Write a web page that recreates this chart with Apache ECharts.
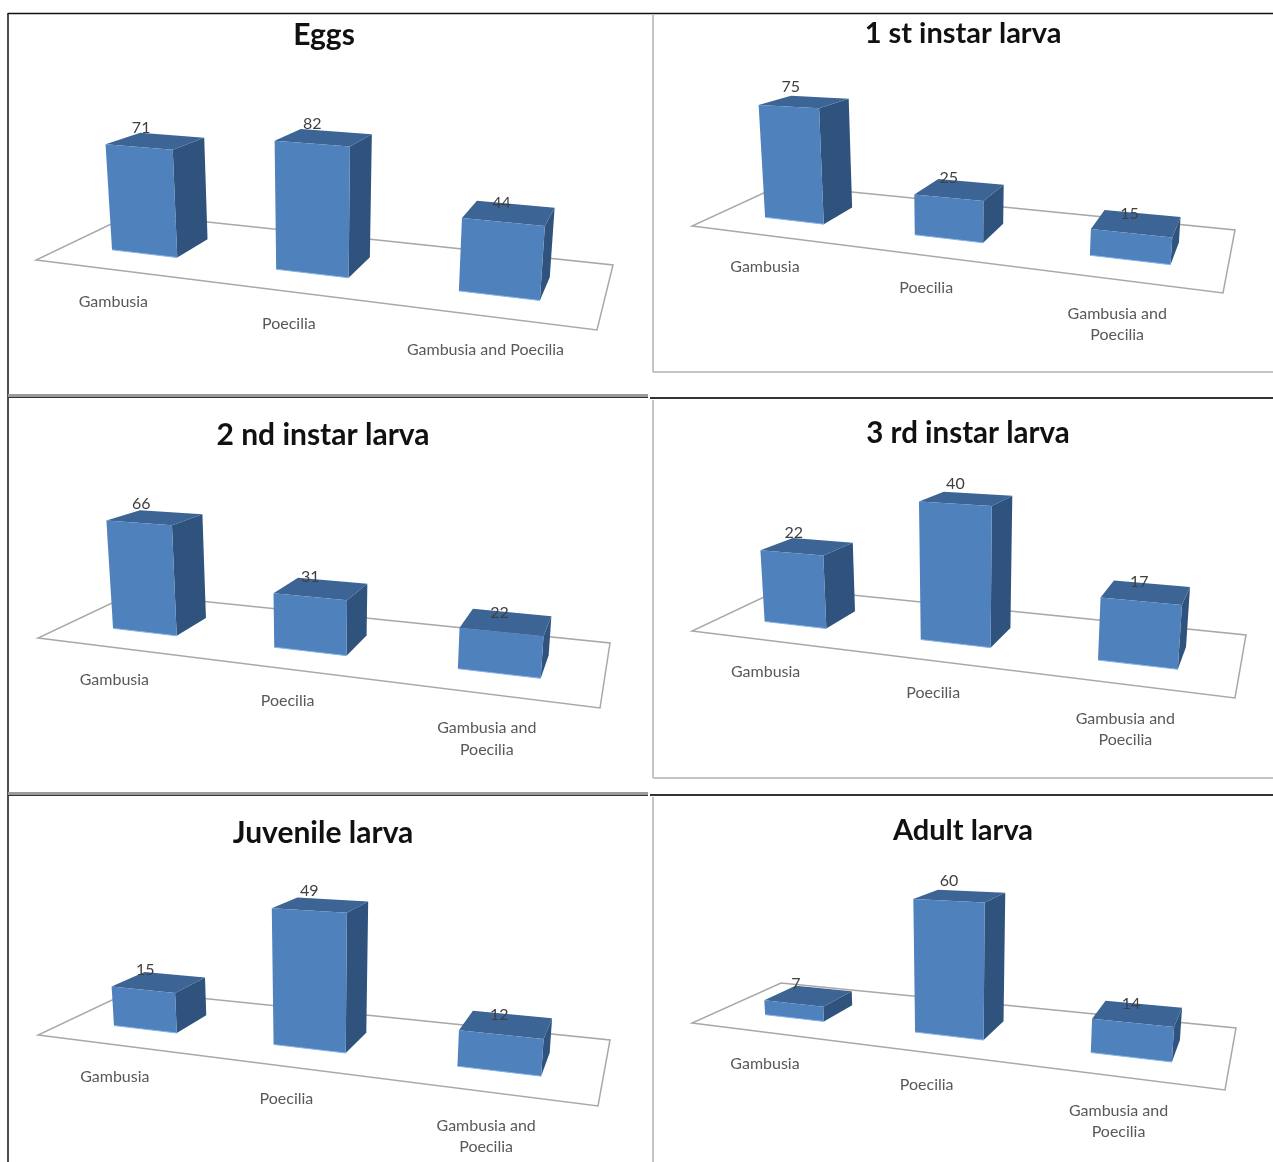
<!DOCTYPE html>
<html>
<head>
<meta charset="utf-8">
<title>Larval stages</title>
<script src="https://cdn.jsdelivr.net/npm/echarts@6/dist/echarts.min.js"></script>
<style>
  html, body { margin: 0; padding: 0; background: #fff; }
  #chart { width: 1273px; height: 1162px; }
</style>
</head>
<body>
<div id="chart"></div>
<script>
// Predator groups shared by every panel
const categoriesWide = ['Gambusia', 'Poecilia', 'Gambusia and Poecilia'];
const categoriesWrapped = ['Gambusia', 'Poecilia', 'Gambusia and\nPoecilia'];

// Values per life stage
const eggs = [71, 82, 44];
const firstInstar = [75, 25, 15];
const secondInstar = [66, 31, 22];
const thirdInstar = [22, 40, 17];
const juvenile = [15, 49, 12];
const adult = [7, 60, 14];

// Panel layout: title anchor and size, floor corners (front-left, front-right, back-right, back-left),
// pixels per value unit, axis maximum and a small sideways nudge of the bars on the floor.
const panels = [
  { title: 'Eggs', values: eggs, cats: categoriesWide, tx: 324, ty: 35, ts: 30, floor: [[36, 260], [597, 330], [613, 265], [132, 214]], unit: 1.53, max: 100, du: -0.003 },
  { title: '1 st instar larva', values: firstInstar, cats: categoriesWrapped, tx: 963, ty: 34, ts: 29, floor: [[692, 226], [1223, 293], [1235, 230], [781, 185]], unit: 1.58, max: 100, du: 0.008 },
  { title: '2 nd instar larva', values: secondInstar, cats: categoriesWrapped, tx: 323, ty: 435, ts: 30, floor: [[38, 638], [600, 708], [610, 643], [131, 594]], unit: 1.7, max: 100, du: 0 },
  { title: '3 rd instar larva', values: thirdInstar, cats: categoriesWrapped, tx: 968, ty: 433, ts: 29.5, floor: [[692, 631], [1235, 698], [1246, 635], [783, 588]], unit: 3.37, max: 50, du: -0.001 },
  { title: 'Juvenile larva', values: juvenile, cats: categoriesWrapped, tx: 323, ty: 833, ts: 30, floor: [[38, 1035], [598, 1106], [610, 1040], [131, 991]], unit: 2.72, max: 60, du: 0.004 },
  { title: 'Adult larva', values: adult, cats: categoriesWrapped, tx: 963, ty: 831, ts: 29, floor: [[692, 1023], [1225, 1090], [1236, 1028], [781, 983]], unit: 2.17, max: 70, du: 0.008 }
];

const FONT = 'Lato, "Open Sans", sans-serif';
const BAR_FRACTION = 0.41;  // bar width relative to its category band
const DEPTH_FRONT = 0.30;   // bar footprint along the floor's depth
const DEPTH_BACK = 0.67;
const FLARE = 0.0003;       // tall bars lean outward a little

// Projective map from the unit floor square to the screen
function floorMap(c) {
  const [p0, p1, p2, p3] = c;
  const dx1 = p1[0] - p2[0], dx2 = p3[0] - p2[0], dx3 = p0[0] - p1[0] + p2[0] - p3[0];
  const dy1 = p1[1] - p2[1], dy2 = p3[1] - p2[1], dy3 = p0[1] - p1[1] + p2[1] - p3[1];
  const den = dx1 * dy2 - dx2 * dy1;
  const g = (dx3 * dy2 - dx2 * dy3) / den;
  const h = (dx1 * dy3 - dx3 * dy1) / den;
  const a = p1[0] - p0[0] + g * p1[0], b = p3[0] - p0[0] + h * p3[0];
  const d = p1[1] - p0[1] + g * p1[1], e = p3[1] - p0[1] + h * p3[1];
  const wMid = g * 0.5 + h * 0.5 + 1;
  return function (u, v) {
    const w = g * u + h * v + 1;
    return { x: (a * u + b * v + p0[0]) / w, y: (d * u + e * v + p0[1]) / w, s: wMid / w };
  };
}

const grids = [], xAxes = [], yAxes = [], series = [], titles = [];

panels.forEach(function (p, idx) {
  const map = floorMap(p.floor);
  const left = p.floor[0][0], width = p.floor[1][0] - left;
  const height = p.unit * p.max;
  const centerX = left + width * 0.5;

  grids.push({ left: left, width: width, top: p.floor[0][1] - height, height: height, containLabel: false });
  xAxes.push({ type: 'category', gridIndex: idx, data: p.cats, show: false });
  yAxes.push({ type: 'value', gridIndex: idx, min: 0, max: p.max, show: false });
  titles.push({
    text: p.title, left: p.tx, top: p.ty, padding: 0, textAlign: 'center', textVerticalAlign: 'middle',
    textStyle: { fontFamily: FONT, fontWeight: 'bold', fontSize: p.ts, color: '#111' }
  });

  // Floor outline
  series.push({
    type: 'custom', xAxisIndex: idx, yAxisIndex: idx, clip: false, silent: true, z: 1,
    data: [[0, 0]],
    renderItem: function () {
      const pts = [[0, 0], [1, 0], [1, 1], [0, 1]].map(function (q) {
        const m = map(q[0], q[1]);
        return [m.x, m.y];
      });
      return {
        type: 'polygon', shape: { points: pts },
        style: { fill: '#fff', stroke: '#a8a8a8', lineWidth: 1.5 }
      };
    }
  });

  // Bars with their value and category labels
  series.push({
    type: 'custom', xAxisIndex: idx, yAxisIndex: idx, clip: false, silent: true, z: 2,
    encode: { x: 0, y: 1 },
    data: p.values.map(function (v, i) { return [i, v]; }),
    renderItem: function (params, api) {
      const i = api.value(0), val = api.value(1);
      const base = api.coord([i, 0]);
      const px = base[1] - api.coord([i, val])[1];
      const band = api.size([1, 0])[0];
      const uc = (base[0] - left) / width + p.du;
      const hw = band * BAR_FRACTION / 2 / width;
      const u0 = uc - hw, u1 = uc + hw;

      function pt(u, v, raised) {
        const m = map(u, v);
        const h = raised ? px * m.s : 0;
        return [m.x + (m.x - centerX) * FLARE * h, m.y - h];
      }
      const fbl = pt(u0, DEPTH_FRONT, false), fbr = pt(u1, DEPTH_FRONT, false);
      const ftl = pt(u0, DEPTH_FRONT, true), ftr = pt(u1, DEPTH_FRONT, true);
      const bbr = pt(u1, DEPTH_BACK, false), btr = pt(u1, DEPTH_BACK, true);
      const btl = pt(u0, DEPTH_BACK, true);

      const labelAt = map(uc, 0);
      return {
        type: 'group',
        children: [
          { type: 'polygon', shape: { points: [fbr, bbr, btr, ftr] }, style: { fill: '#30537d' } },
          { type: 'polygon', shape: { points: [ftl, ftr, btr, btl] }, style: { fill: '#3c6494' } },
          { type: 'polygon', shape: { points: [fbl, fbr, ftr, ftl] }, style: { fill: '#4f81bd' } },
          { type: 'line', shape: { x1: fbl[0], y1: fbl[1], x2: fbr[0], y2: fbr[1] }, style: { stroke: '#86b4e6', lineWidth: 1 } },
          {
            type: 'text',
            style: {
              text: String(val), x: (ftl[0] + ftr[0]) / 2 + (1 - i) * 2, y: (ftl[1] + ftr[1]) / 2 - 19.5,
              align: 'center', verticalAlign: 'middle',
              fontFamily: FONT, fontSize: 16, fill: '#404040'
            }
          },
          {
            type: 'text',
            style: {
              text: p.cats[i], x: labelAt.x - 2, y: labelAt.y + 21 + (i === 2 ? 2 : 0),
              align: 'center', verticalAlign: 'top', lineHeight: 21.5,
              fontFamily: FONT, fontSize: 16, fill: '#595959'
            }
          }
        ]
      };
    }
  });
});

// Panel frame rules
function rule(x1, y1, x2, y2, color, w) {
  return { type: 'line', silent: true, z: 10, shape: { x1: x1, y1: y1, x2: x2, y2: y2 }, style: { stroke: color, lineWidth: w } };
}
const frame = [
  rule(8, 13.5, 1273, 13.5, '#111', 1.5),
  rule(8, 13, 8, 1162, '#111', 1.5),
  rule(8, 396, 648, 396, '#9a9a9a', 4),
  rule(8, 397.5, 648, 397.5, '#333', 1),
  rule(650, 398, 1273, 398, '#333', 2),
  rule(8, 794, 648, 794, '#9a9a9a', 4),
  rule(8, 795.5, 648, 795.5, '#333', 1),
  rule(650, 795, 1273, 795, '#333', 2),
  rule(653, 14, 653, 372, '#c4c4c4', 2),
  rule(653, 372, 1273, 372, '#c4c4c4', 2),
  rule(653, 400, 653, 778, '#c4c4c4', 2),
  rule(653, 778, 1273, 778, '#c4c4c4', 2),
  rule(653, 797, 653, 1162, '#c4c4c4', 2)
];

const chart = echarts.init(document.getElementById('chart'));
chart.setOption({
  animation: false,
  backgroundColor: '#fff',
  title: titles,
  grid: grids,
  xAxis: xAxes,
  yAxis: yAxes,
  series: series,
  graphic: { elements: frame }
});
</script>
</body>
</html>
